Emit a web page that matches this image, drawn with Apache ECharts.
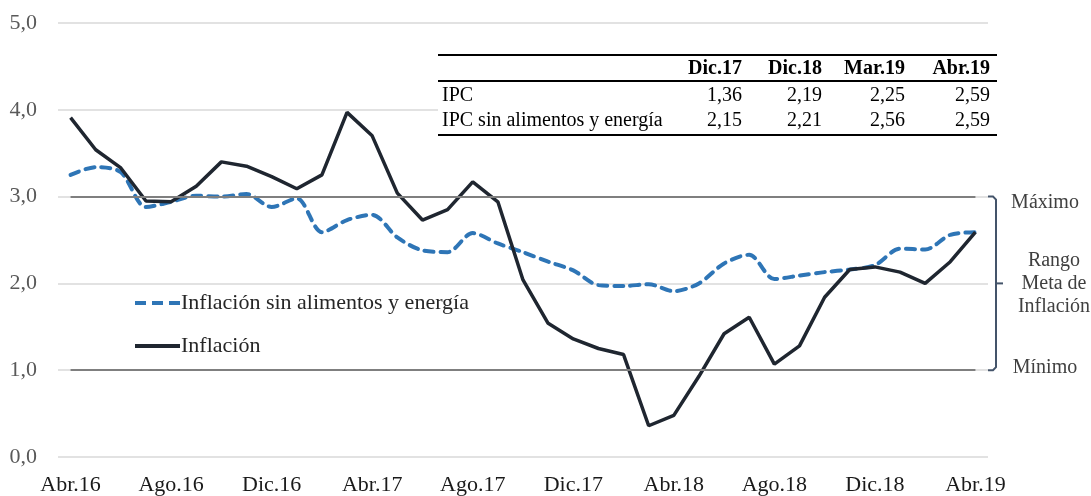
<!DOCTYPE html>
<html>
<head>
<meta charset="utf-8">
<script src="https://cdn.jsdelivr.net/npm/echarts@6/dist/echarts.min.js"></script>
<style>
html,body{margin:0;padding:0;background:#fff;}
#c{width:1091px;height:496px;}
</style>
</head>
<body>
<div id="c"></div>
<script>
var categories = ["Abr.16","May.16","Jun.16","Jul.16","Ago.16","Sep.16","Oct.16","Nov.16","Dic.16",
  "Ene.17","Feb.17","Mar.17","Abr.17","May.17","Jun.17","Jul.17","Ago.17","Sep.17","Oct.17","Nov.17","Dic.17",
  "Ene.18","Feb.18","Mar.18","Abr.18","May.18","Jun.18","Jul.18","Ago.18","Sep.18","Oct.18","Nov.18","Dic.18",
  "Ene.19","Feb.19","Mar.19","Abr.19"];
var inflacion = [3.91,3.54,3.33,2.95,2.94,3.12,3.40,3.35,3.23,3.09,3.25,3.97,3.70,3.04,2.73,2.85,3.17,2.94,2.04,1.54,1.36,
  1.25,1.18,0.36,0.48,0.93,1.42,1.61,1.07,1.28,1.84,2.16,2.19,2.13,2.00,2.25,2.59];
var inflacionSAE = [3.25,3.34,3.28,2.88,2.94,3.01,3.00,3.03,2.88,2.98,2.59,2.73,2.79,2.53,2.38,2.36,2.58,2.46,2.36,2.25,2.15,
  1.98,1.97,1.99,1.91,2.00,2.23,2.33,2.05,2.09,2.13,2.16,2.21,2.40,2.39,2.56,2.59];
var yTicks = [0,1,2,3,4,5];
var rangoMax = 3;
var rangoMin = 1;
var tableCols = ["Dic.17","Dic.18","Mar.19","Abr.19"];
var tableRows = ["IPC","IPC sin alimentos y energía"];
var ipcRow = ["1,36","2,19","2,25","2,59"];
var ipcSaeRow = ["2,15","2,21","2,56","2,59"];

var FONT = "'Liberation Serif', 'DejaVu Serif', serif";
var chart = echarts.init(document.getElementById('c'), null, {renderer:'canvas'});

var option = {
  animation: false,
  backgroundColor: '#fff',
  grid: {left: 58, right: 103, top: 23, bottom: 39},
  xAxis: {
    type: 'category',
    data: categories,
    boundaryGap: true,
    axisLine: {show: false},
    axisTick: {show: false},
    axisLabel: {interval: 3, color: '#1a1a1a', fontFamily: FONT, fontSize: 22, margin: 17}
  },
  yAxis: {
    type: 'value',
    min: yTicks[0], max: yTicks[yTicks.length-1], interval: 1,
    axisLine: {show: false},
    axisTick: {show: false},
    axisLabel: {color: '#595959', fontFamily: FONT, fontSize: 22, margin: 21,
      formatter: function(v){ return v.toFixed(1).replace('.', ','); }},
    splitLine: {lineStyle: {color: '#d9d9d9', width: 1.5}}
  },
  legend: {
    orient: 'vertical',
    left: 130, top: 287,
    itemWidth: 45, itemHeight: 4, itemGap: 21,
    textStyle: {color: '#262626', fontFamily: FONT, fontSize: 22, padding: [0,0,0,-4]},
    data: [
      {name: 'Inflación sin alimentos y energía', icon: 'path://M0,0 h11 v4 h-11 z M17,0 h11 v4 h-11 z M34,0 h11 v4 h-11 z'},
      {name: 'Inflación', icon: 'rect'}
    ]
  },
  series: [
    {
      name: 'Inflación sin alimentos y energía',
      type: 'line',
      data: inflacionSAE,
      smooth: 0.3,
      showSymbol: false,
      symbol: 'none',
      lineStyle: {color: '#2e75b6', width: 4, type: [9, 7], cap: 'round'},
      itemStyle: {color: '#2e75b6'},
      markLine: {
        silent: true, symbol: 'none', label: {show: false},
        lineStyle: {color: '#7f7f7f', width: 2, type: 'solid'},
        data: [
          [{coord: [0, rangoMax]}, {coord: [categories.length-1, rangoMax]}],
          [{coord: [0, rangoMin]}, {coord: [categories.length-1, rangoMin]}]
        ]
      },
      z: 2
    },
    {
      name: 'Inflación',
      type: 'line',
      data: inflacion,
      showSymbol: false,
      symbol: 'none',
      lineStyle: {color: '#1f2630', width: 3.5},
      itemStyle: {color: '#1f2630'},
      z: 3
    }
  ]
};
chart.setOption(option);

// annotations: table and brace
var colRight = [742, 822, 905, 990];
var tLeft = 438, tRight = 997;
var g = [];
g.push({type:'rect', shape:{x:tLeft, y:54, width:tRight-tLeft, height:82}, style:{fill:'#fff'}, z:10});
g.push({type:'line', shape:{x1:tLeft,y1:55,x2:tRight,y2:55}, style:{stroke:'#000', lineWidth:2}, z:11});
g.push({type:'line', shape:{x1:tLeft,y1:81,x2:tRight,y2:81}, style:{stroke:'#000', lineWidth:2}, z:11});
g.push({type:'line', shape:{x1:tLeft,y1:135,x2:tRight,y2:135}, style:{stroke:'#000', lineWidth:2}, z:11});
tableCols.forEach(function(c, i){
  g.push({type:'text', x: colRight[i], y: 69, z:11,
    style:{text:c, fill:'#000', font:'bold 20px ' + FONT, align:'right', verticalAlign:'middle'}});
  g.push({type:'text', x: colRight[i], y: 96, z:11,
    style:{text:ipcRow[i], fill:'#000', font:'20px ' + FONT, align:'right', verticalAlign:'middle'}});
  g.push({type:'text', x: colRight[i], y: 121, z:11,
    style:{text:ipcSaeRow[i], fill:'#000', font:'20px ' + FONT, align:'right', verticalAlign:'middle'}});
});
tableRows.forEach(function(r, i){
  g.push({type:'text', x: 442, y: 96 + i*25, z:11,
    style:{text:r, fill:'#000', font:'20px ' + FONT, align:'left', verticalAlign:'middle'}});
});

var yTop = chart.convertToPixel({yAxisIndex:0}, rangoMax);
var yBot = chart.convertToPixel({yAxisIndex:0}, rangoMin);
var yMid = (yTop + yBot) / 2;
var bx = 996;
g.push({type:'polyline', shape:{points:[[988,yTop],[993,yTop],[bx,yTop+3],[bx,yBot-3],[993,yBot],[988,yBot]]},
  style:{stroke:'#44546a', lineWidth:2, fill:null}, z:11});
g.push({type:'line', shape:{x1:bx, y1:yMid, x2:1003, y2:yMid}, style:{stroke:'#44546a', lineWidth:2}, z:11});
var annFont = '20px ' + FONT;
g.push({type:'text', x:1045, y:yTop+6, style:{text:'Máximo', fill:'#404040', font:annFont, align:'center', verticalAlign:'middle'}});
g.push({type:'text', x:1045, y:yBot-2, style:{text:'Mínimo', fill:'#404040', font:annFont, align:'center', verticalAlign:'middle'}});
g.push({type:'text', x:1054, y:yMid-23, style:{text:'Rango', fill:'#404040', font:annFont, align:'center', verticalAlign:'middle'}});
g.push({type:'text', x:1054, y:yMid, style:{text:'Meta de', fill:'#404040', font:annFont, align:'center', verticalAlign:'middle'}});
g.push({type:'text', x:1054, y:yMid+23, style:{text:'Inflación', fill:'#404040', font:annFont, align:'center', verticalAlign:'middle'}});
chart.setOption({graphic: g});
</script>
</body>
</html>
